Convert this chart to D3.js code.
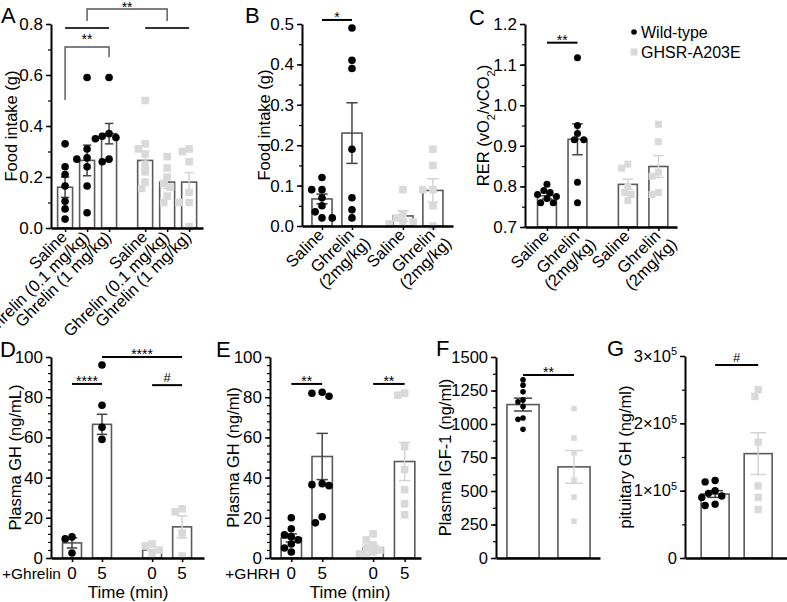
<!DOCTYPE html>
<html><head><meta charset="utf-8">
<script src="https://cdn.jsdelivr.net/npm/d3@7"></script>
<style>body{margin:0;background:#fff} text{font-family:"Liberation Sans",Arial,Helvetica,sans-serif;fill:#000}</style>
</head><body><svg id="c" width="787" height="602"></svg>
<script>
// ---------------- DATA ----------------
const genotypes = ["Wild-type", "GHSR-A203E"];
// Panel A
const aCategories = ["Saline","Ghrelin (0.1 mg/kg)","Ghrelin (1 mg/kg)","Saline","Ghrelin (0.1 mg/kg)","Ghrelin (1 mg/kg)"];
const aGroup = [0,0,0,1,1,1];
const aMeans = [0.16,0.265,0.37,0.265,0.18,0.18];
const aSem = [0.04,0.06,0.04,0.035,0.025,0.037];
const aPoints = [
  [0.33,0.24,0.21,0.165,0.105,0.075,0.035],
  [0.59,0.31,0.275,0.27,0.24,0.165,0.06],
  [0.59,0.37,0.36,0.355,0.35,0.27,0.26],
  [0.50,0.33,0.31,0.29,0.25,0.22,0.18,0.155],
  [0.28,0.235,0.2,0.175,0.16,0.125,0.1],
  [0.31,0.30,0.26,0.14,0.10,0.10,0.005]
];
const aTicks = [0,0.2,0.4,0.6,0.8];
const aSig = [
  {type:"bracket", from:1, to:4, y:0.859, legL:0.812, legR:0.812, label:"**", gap:-1},
  {type:"line", from:0, to:2, y:0.784, label:""},
  {type:"line", from:3, to:5, y:0.784, label:""},
  {type:"bracket", from:0, to:2, y:0.71, legL:0.502, legR:0.67, label:"**", gap:5}
];
// Panel B
const bCategories = ["Saline","Ghrelin\n(2mg/kg)","Saline","Ghrelin\n(2mg/kg)"];
const bGroup = [0,0,1,1];
const bMeans = [0.067,0.23,0.025,0.088];
const bSem = [0.012,0.075,0.013,0.029];
const bPoints = [
  [0.12,0.09,0.09,0.07,0.05,0.035,0.02,0.02],
  [0.49,0.41,0.39,0.19,0.07,0.04,0.02],
  [0.09,0.03,0.02,0.01,0.01,0.005],
  [0.19,0.15,0.09,0.09,0.05,0.0]
];
const bTicks = [0,0.1,0.2,0.3,0.4,0.5];
const bSig = [{type:"line", from:0, to:1, y:0.51, label:"*"}];
// Panel C
const cCategories = ["Saline","Ghrelin\n(2mg/kg)","Saline","Ghrelin\n(2mg/kg)"];
const cGroup = [0,0,1,1];
const cMeans = [0.777,0.916,0.805,0.849];
const cSem = [0.008,0.038,0.013,0.027];
const cPoints = [
  [0.805,0.79,0.785,0.78,0.775,0.77,0.76,0.76],
  [1.117,0.95,0.93,0.915,0.915,0.81,0.76],
  [0.855,0.845,0.80,0.785,0.78,0.765],
  [0.953,0.91,0.835,0.825,0.785,0.78]
];
const cTicks = [0.7,0.8,0.9,1.0,1.1,1.2];
const cSig = [{type:"line", from:0, to:1, y:1.154, label:"**"}];
// Panel D
const dCategories = ["0","5","0","5"];
const dGroup = [0,0,1,1];
const dMeans = [7.5,66.5,4,15.5];
const dSem = [2.5,5,0.3,5.5];
const dPoints = [[10.5,9.5,2.5],[96,76,65,59],[7,6,4,2],[24.5,23,12.5,1]];
const dTicks = [0,20,40,60,80,100];
const dSig = [
  {type:"line", from:0, to:1, y:86.6, label:"****"},
  {type:"line", from:1, to:3, y:100, label:"****"},
  {type:"line", from:2, to:3, y:86, label:"#"}
];
// Panel E
const eCategories = ["0","5","0","5"];
const eGroup = [0,0,1,1];
const eMeans = [10,50.5,5,48];
const eSem = [2,11.5,1.3,9.5];
const ePoints = [
  [20,14.5,11.5,10.5,9,7,5,3],
  [82.5,82,80.5,37,36.5,36,20.5,17.5],
  [12,9,6.5,5,4,3,2,1],
  [82,81,55.5,44,34,27,21.5]
];
const eTicks = [0,20,40,60,80,100];
const eSig = [
  {type:"line", from:0, to:1, y:86.6, label:"**"},
  {type:"line", from:2, to:3, y:86.6, label:"**"}
];
// Panel F
const fGroup = [0,1];
const fMeans = [1145,680];
const fSem = [48,122];
const fPoints = [[1330,1290,1240,1180,1165,1130,1045,1035,960],[1115,895,785,580,455,275]];
const fTicks = [0,250,500,750,1000,1250,1500];
const fSig = [{type:"line", from:0, to:1, y:1366, label:"**"}];
// Panel G
const gGroup = [0,1];
const gMeans = [95000,155000];
const gSem = [5000,31000];
const gPoints = [[115000,113000,100000,96000,92000,90000,80000,78000],[250000,240000,172000,107000,90000,72000]];
const gTicks = [0,100000,200000,300000];
const gSig = [{type:"line", from:0, to:1, y:286600, label:"#"}];

// ---------------- STYLE ----------------
const svg = d3.select("#c");
const ptColor = ["#000000", "#d9d9d9"];
const errColor = ["#444444", "#d3d3d3"];
const barStroke = "#5a5a5a";

function dodge(vals, y, xc, r) {
  const placed = [];
  return vals.map(v => {
    const py = y(v);
    let best = 0;
    for (let k = 0; k < 30; k++) {
      const off = k === 0 ? 0 : (k % 2 ? -1 : 1) * Math.ceil(k / 2) * r * 0.9;
      if (placed.every(p => Math.hypot(p[0] - (xc + off), p[1] - py) >= 2 * r * 0.92)) { best = off; break; }
    }
    placed.push([xc + best, py]);
    return [xc + best, py];
  });
}

function panel(cfg) {
  const g = svg.append("g");
  const x = d3.scaleLinear().domain(cfg.xDomain).range([cfg.x0, cfg.x1]);
  const y = d3.scaleLinear().domain(cfg.yDomain).range([cfg.yBottom, cfg.yTop]);
  const unit = x(1) - x(0);
  const bw = unit * cfg.barFrac;
  const base = y(cfg.yDomain[0]);
  cfg.slots.forEach((s, i) => {
    g.append("rect").attr("x", x(s) - bw / 2).attr("y", y(cfg.means[i]))
      .attr("width", bw).attr("height", base - y(cfg.means[i]))
      .attr("fill", "#fff").attr("stroke", barStroke).attr("stroke-width", 1.6);
  });
  cfg.slots.forEach((s, i) => {
    const c = errColor[cfg.group[i]];
    const cx = x(s), cw = bw * 0.28;
    const lo = y(cfg.means[i] - cfg.sem[i]), hi = y(cfg.means[i] + cfg.sem[i]);
    g.append("line").attr("x1", cx).attr("x2", cx).attr("y1", lo).attr("y2", hi).attr("stroke", c).attr("stroke-width", 1.5);
    [lo, hi].forEach(yy => g.append("line").attr("x1", cx - cw).attr("x2", cx + cw).attr("y1", yy).attr("y2", yy).attr("stroke", c).attr("stroke-width", 1.5));
  });
  cfg.slots.forEach((s, i) => {
    const grp = cfg.group[i];
    const pos = dodge(cfg.points[i], y, x(s), cfg.r);
    pos.forEach(p => {
      if (grp === 0) g.append("circle").attr("cx", p[0]).attr("cy", p[1]).attr("r", cfg.r).attr("fill", ptColor[0]);
      else g.append("rect").attr("x", p[0] - cfg.r).attr("y", p[1] - cfg.r).attr("width", 2 * cfg.r).attr("height", 2 * cfg.r).attr("fill", ptColor[1]);
    });
  });
  const ya = g.append("g").attr("transform", `translate(${cfg.x0},0)`)
    .call(d3.axisLeft(y).tickValues(cfg.ticks).tickSize(5).tickSizeOuter(0).tickPadding(3).tickFormat(cfg.fmt));
  ya.select(".domain").attr("stroke", "#000").attr("stroke-width", 2);
  ya.selectAll(".tick line").attr("stroke", "#000").attr("stroke-width", 1.5);
  ya.selectAll(".tick text").attr("font-size", cfg.tickFont || 17).style("font-family", '"Liberation Sans",Arial,sans-serif');
  if (cfg.fmtHtml) {
    ya.selectAll(".tick text").each(function (d) { cfg.fmtHtml(d3.select(this), d); });
  }
  if (cfg.minor) {
    const mn = d3.range(cfg.yDomain[0], cfg.yDomain[1] + cfg.minor / 2, cfg.minor);
    const ma = g.append("g").attr("transform", `translate(${cfg.x0},0)`)
      .call(d3.axisLeft(y).tickValues(mn).tickSize(3).tickSizeOuter(0).tickFormat(""));
    ma.select(".domain").remove();
    ma.selectAll(".tick line").attr("stroke", "#000").attr("stroke-width", 1.2);
  }
  const xa = g.append("g").attr("transform", `translate(0,${base})`)
    .call(d3.axisBottom(x).tickValues(cfg.xTicks ? cfg.slots : []).tickSize(4).tickSizeOuter(0).tickFormat(""));
  xa.select(".domain").attr("stroke", "#000").attr("stroke-width", 2.4);
  xa.selectAll(".tick line").attr("stroke", "#000").attr("stroke-width", 1.5);
  if (cfg.rotLabels) {
    cfg.rotLabels.forEach((lab, i) => {
      const lines = lab.split("\n");
      const t = g.append("text").attr("font-size", 16.5)
        .attr("transform", `translate(${x(cfg.slots[i]) + 3},${base + 10}) rotate(-45)`)
        .attr("text-anchor", lines.length > 1 ? "middle" : "end");
      lines.forEach((ln, k) => t.append("tspan").attr("x", 0).attr("dy", k === 0 ? 0 : "1.05em").text(ln));
      if (lines.length > 1) {
        const w = t.select("tspan").node().getComputedTextLength();
        t.selectAll("tspan").attr("x", -w / 2);
      }
    });
  }
  if (cfg.flatLabels) {
    cfg.flatLabels.forEach((lab, i) => {
      g.append("text").attr("x", x(cfg.slots[i])).attr("y", base + 21).attr("text-anchor", "middle").attr("font-size", 17).text(lab);
    });
  }
  (cfg.sig || []).forEach(s => {
    const xa1 = x(cfg.slots[s.from]), xa2 = x(cfg.slots[s.to]), yy = y(s.y);
    const col = s.type === "bracket" ? "#555" : "#000";
    if (s.type === "bracket") {
      g.append("path").attr("d", `M${xa1},${y(s.legL)}V${yy}H${xa2}V${y(s.legR)}`)
        .attr("fill", "none").attr("stroke", col).attr("stroke-width", 1.4);
    } else {
      g.append("line").attr("x1", xa1).attr("x2", xa2).attr("y1", yy).attr("y2", yy).attr("stroke", s.label ? "#000" : "#333").attr("stroke-width", 2);
    }
    if (s.label) {
      const isHash = s.label === "#";
      g.append("text").attr("x", (xa1 + xa2) / 2).attr("y", isHash ? yy - 3 : yy + 2 - (s.gap || 0))
        .attr("text-anchor", "middle").attr("font-size", isHash ? 13 : 14).text(s.label);
    }
  });
  const yt = g.append("text").attr("font-size", 16.5).attr("text-anchor", "middle")
    .attr("transform", `translate(${cfg.titleX},${(cfg.yTop + cfg.yBottom) / 2}) rotate(-90)`);
  if (typeof cfg.title === "string") yt.text(cfg.title); else cfg.title(yt);
  svg.append("text").attr("x", cfg.letterX).attr("y", cfg.letterY).attr("font-size", 22).text(cfg.letter);
  return {x, y};
}

const f1 = d => d3.format(".1f")(d);

panel({letter:"A", letterX:1, letterY:23, x0:51, x1:203, xDomain:[-0.64,6.27], slots:[0,1,2,3.64,4.64,5.64],
  yBottom:228, yTop:24, yDomain:[0,0.8], ticks:aTicks, minor:0.1, fmt:f1, barFrac:0.68, r:3.8,
  means:aMeans, sem:aSem, points:aPoints, group:aGroup, xTicks:true, rotLabels:aCategories, sig:aSig,
  title:"Food intake (g)", titleX:17});

panel({letter:"B", letterX:245, letterY:23, x0:302, x1:453, xDomain:[-0.667,4.37], slots:[0,1,2.7,3.7],
  yBottom:226, yTop:24, yDomain:[0,0.5], ticks:bTicks, minor:0.05, fmt:f1, barFrac:0.67, r:3.8,
  means:bMeans, sem:bSem, points:bPoints, group:bGroup, xTicks:true, rotLabels:bCategories, sig:bSig,
  title:"Food intake (g)", titleX:270});

panel({letter:"C", letterX:469, letterY:25, x0:525, x1:677, xDomain:[-0.72,4.26], slots:[0,1,2.65,3.65],
  yBottom:227, yTop:24, yDomain:[0.7,1.2], ticks:cTicks, minor:0.05, fmt:f1, barFrac:0.62, r:3.5,
  means:cMeans, sem:cSem, points:cPoints, group:cGroup, xTicks:true, rotLabels:cCategories, sig:cSig,
  titleX:489, title: t => {
    t.append("tspan").text("RER (vO");
    t.append("tspan").attr("font-size", 11).attr("baseline-shift", "sub").text("2");
    t.append("tspan").text("/vCO");
    t.append("tspan").attr("font-size", 11).attr("baseline-shift", "sub").text("2");
    t.append("tspan").text(")");
  }});

panel({letter:"D", letterX:0, letterY:357, x0:51, x1:204, xDomain:[-0.7,4.4], slots:[0,1,2.67,3.67],
  yBottom:558, yTop:357, yDomain:[0,100], ticks:dTicks, minor:4, fmt:d3.format("d"), barFrac:0.63, r:3.8, tickFont:17,
  means:dMeans, sem:dSem, points:dPoints, group:dGroup, xTicks:true, flatLabels:dCategories, sig:dSig,
  title:"Plasma GH (ng/mL)", titleX:21});

panel({letter:"E", letterX:216, letterY:357, x0:270, x1:421, xDomain:[-0.69,4.2], slots:[0,1,2.65,3.67],
  yBottom:558, yTop:357, yDomain:[0,100], ticks:eTicks, minor:4, fmt:d3.format("d"), barFrac:0.66, r:3.8, tickFont:17,
  means:eMeans, sem:eSem, points:ePoints, group:eGroup, xTicks:true, flatLabels:eCategories, sig:eSig,
  title:"Plasma GH (ng/ml)", titleX:239});

panel({letter:"F", letterX:436, letterY:356, x0:496, x1:600, xDomain:[-0.53,1.51], slots:[0,1],
  yBottom:558, yTop:357, yDomain:[0,1500], ticks:fTicks, minor:125, fmt:d3.format("d"), barFrac:0.63, r:2.8, tickFont:16.5,
  means:fMeans, sem:fSem, points:fPoints, group:fGroup, xTicks:false, sig:fSig,
  title:"Plasma IGF-1 (ng/ml)", titleX:451});

panel({letter:"G", letterX:607, letterY:356, x0:685, x1:787, xDomain:[-0.7,1.67], slots:[0,1],
  yBottom:558, yTop:356, yDomain:[0,300000], ticks:gTicks, minor:50000, fmt:d => d === 0 ? "0" : "", barFrac:0.65, r:3.7, tickFont:16.5,
  fmtHtml: (t, d) => { if (d !== 0) { t.text(null); t.append("tspan").text((d / 100000) + "×10"); t.append("tspan").attr("font-size", 11).attr("dy", "-0.6em").text("5"); } },
  means:gMeans, sem:gSem, points:gPoints, group:gGroup, xTicks:false, sig:gSig,
  title:"pituitary GH (ng/ml)", titleX:631});

svg.append("text").attr("x", 61).attr("y", 579).attr("text-anchor", "end").attr("font-size", 15.5).text("+Ghrelin");
svg.append("text").attr("x", 128).attr("y", 598).attr("text-anchor", "middle").attr("font-size", 17).text("Time (min)");
svg.append("text").attr("x", 280).attr("y", 579).attr("text-anchor", "end").attr("font-size", 15.5).text("+GHRH");
svg.append("text").attr("x", 350).attr("y", 598).attr("text-anchor", "middle").attr("font-size", 17).text("Time (min)");

const lg = svg.append("g");
lg.append("circle").attr("cx", 634).attr("cy", 32).attr("r", 2.8).attr("fill", ptColor[0]);
lg.append("text").attr("x", 641).attr("y", 37.5).attr("font-size", 16).text(genotypes[0]);
lg.append("rect").attr("x", 630.5).attr("y", 48.5).attr("width", 7).attr("height", 7).attr("fill", ptColor[1]);
lg.append("text").attr("x", 641).attr("y", 58).attr("font-size", 16).text(genotypes[1]);
</script></body></html>
